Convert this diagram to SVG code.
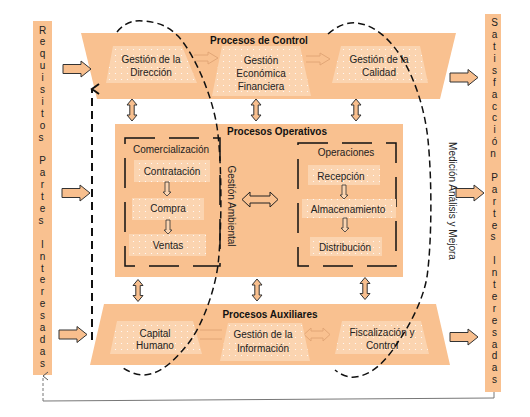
<svg xmlns="http://www.w3.org/2000/svg" width="530" height="417" viewBox="0 0 530 417">
<defs>
<pattern id="dots" width="6" height="6" patternUnits="userSpaceOnUse"><rect width="6" height="6" fill="#FBD4B0"/><circle cx="1.5" cy="1.5" r="0.6" fill="#FFFFFF"/></pattern>
<path id="rarrow" d="M-14,-4.5 H4 V-8 L14,0 L4,8 V4.5 H-14 Z"/>
<path id="vdbl" d="M0,-11 L5,-5 H2.2 V5 H5 L0,11 L-5,5 H-2.2 V-5 H-5 Z"/>
<path id="darrow" d="M-2,-7 H2 V3 H4 L0,7 L-4,3 H-2 Z"/>
<marker id="openhead" markerWidth="10" markerHeight="10" refX="5" refY="2" orient="auto-start-reverse" markerUnits="userSpaceOnUse" viewBox="0 0 10 10"><path d="M1,7 L5,2 L9,7" fill="none" stroke="#555" stroke-width="1"/></marker>
<marker id="openhead2" markerWidth="12" markerHeight="12" refX="6" refY="2" orient="auto-start-reverse" markerUnits="userSpaceOnUse" viewBox="0 0 12 12"><path d="M1,9 L6,2 L11,9" fill="none" stroke="#111" stroke-width="2"/></marker>
</defs>
<style>
.main{fill:#F9C190;}
.inner{fill:url(#dots);}
.t{font-family:"Liberation Sans",Arial,sans-serif;font-size:10px;fill:#222;text-anchor:middle;}
.b{font-family:"Liberation Sans",Arial,sans-serif;font-size:10px;font-weight:bold;fill:#111;text-anchor:middle;}
.v{font-family:"Liberation Sans",Arial,sans-serif;font-size:10px;fill:#222;text-anchor:middle;}
.blk{fill:#F8BF8E;stroke:#333;stroke-width:1;}
.dash{fill:none;stroke:#111;stroke-width:1.5;stroke-dasharray:30 14;}
.faint{fill:none;stroke:#E2A676;stroke-width:1;}
.curve{fill:none;stroke:#111;stroke-width:1.5;stroke-dasharray:7 4;}
</style>
<rect width="530" height="417" fill="#FFFFFF"/>

<g id="requisitos">
<rect x="33" y="21" width="19" height="354" class="main"/>
<text class="v" x="42.5">
<tspan x="42.5" y="33.5">R</tspan><tspan x="42.5" y="45.4">e</tspan><tspan x="42.5" y="57.3">q</tspan><tspan x="42.5" y="69.2">u</tspan><tspan x="42.5" y="81.1">i</tspan><tspan x="42.5" y="93">s</tspan><tspan x="42.5" y="104.9">i</tspan><tspan x="42.5" y="116.8">t</tspan><tspan x="42.5" y="128.7">o</tspan><tspan x="42.5" y="140.6">s</tspan>
<tspan x="42.5" y="164.4">P</tspan><tspan x="42.5" y="176.3">a</tspan><tspan x="42.5" y="188.2">r</tspan><tspan x="42.5" y="200.1">t</tspan><tspan x="42.5" y="212">e</tspan><tspan x="42.5" y="223.9">s</tspan>
<tspan x="42.5" y="247.7">I</tspan><tspan x="42.5" y="259.6">n</tspan><tspan x="42.5" y="271.5">t</tspan><tspan x="42.5" y="283.4">e</tspan><tspan x="42.5" y="295.3">r</tspan><tspan x="42.5" y="307.2">e</tspan><tspan x="42.5" y="319.1">s</tspan><tspan x="42.5" y="331">a</tspan><tspan x="42.5" y="342.9">d</tspan><tspan x="42.5" y="354.8">a</tspan><tspan x="42.5" y="366.7">s</tspan>
</text>
</g>

<g id="satisfaccion">
<rect x="485" y="14" width="16" height="378" class="main"/>
<text class="v">
<tspan x="494.5" y="26.2">S</tspan><tspan x="494.5" y="38.1">a</tspan><tspan x="494.5" y="50">t</tspan><tspan x="494.5" y="61.9">i</tspan><tspan x="494.5" y="73.8">s</tspan><tspan x="494.5" y="85.7">f</tspan><tspan x="494.5" y="97.6">a</tspan><tspan x="494.5" y="109.5">c</tspan><tspan x="494.5" y="121.4">c</tspan><tspan x="494.5" y="133.3">i</tspan><tspan x="494.5" y="145.2">ó</tspan><tspan x="494.5" y="157.1">n</tspan>
<tspan x="494.5" y="180.9">P</tspan><tspan x="494.5" y="192.8">a</tspan><tspan x="494.5" y="204.7">r</tspan><tspan x="494.5" y="216.6">t</tspan><tspan x="494.5" y="228.5">e</tspan><tspan x="494.5" y="240.4">s</tspan>
<tspan x="494.5" y="264.2">I</tspan><tspan x="494.5" y="276.1">n</tspan><tspan x="494.5" y="288">t</tspan><tspan x="494.5" y="299.9">e</tspan><tspan x="494.5" y="311.8">r</tspan><tspan x="494.5" y="323.7">e</tspan><tspan x="494.5" y="335.6">s</tspan><tspan x="494.5" y="347.5">a</tspan><tspan x="494.5" y="359.4">d</tspan><tspan x="494.5" y="371.3">a</tspan><tspan x="494.5" y="383.2">s</tspan>
</text>
</g>

<g id="control">
<polygon points="81,33 456,33 440,99 97,99" class="main"/>
<path class="faint" d="M194,55 H208 V52 L218,58 L208,64 V61 H194"/>
<path class="faint" d="M306,56 H320 V53 L330,59 L320,65 V62 H306"/>
<polygon points="113,46 182,46 197,83 106,83" class="inner"/>
<polygon points="222,46 300,46 311,96 212,96" class="inner"/>
<polygon points="341,46 420,46 428,83 332,83" class="inner"/>
<text class="b" x="259" y="44">Procesos de Control</text>
<text class="t" x="151" y="63">Gestión de la</text>
<text class="t" x="151" y="76">Dirección</text>
<text class="t" x="261" y="64">Gestión</text>
<text class="t" x="261" y="77">Económica</text>
<text class="t" x="261" y="90">Financiera</text>
<text class="t" x="379" y="63">Gestión de la</text>
<text class="t" x="379" y="76">Calidad</text>
</g>

<g id="operativos">
<rect x="115" y="124" width="288" height="153" class="main"/>
<text class="b" x="277" y="135">Procesos Operativos</text>
<rect x="125" y="138" width="95" height="128" class="dash"/>
<text class="t" x="171" y="153">Comercialización</text>
<rect x="134" y="160" width="76" height="22" class="inner"/>
<text class="t" x="172" y="175">Contratación</text>
<rect x="132" y="198" width="72" height="22" class="inner"/>
<text class="t" x="168" y="212">Compra</text>
<rect x="129" y="234" width="77" height="22" class="inner"/>
<text class="t" x="168" y="249">Ventas</text>
<use href="#darrow" x="167" y="189" class="blk" style="stroke-width:0.8;fill:#FBD4B0"/>
<use href="#darrow" x="168" y="227" class="blk" style="stroke-width:0.8;fill:#FBD4B0"/>
<text class="t" transform="translate(227.5,206) rotate(90)" x="0" y="0">Gestión Ambiental</text>
<path d="M242,199.5 L250,192 V196 H270 V192 L278,199.5 L270,207 V203 H250 V207 Z" fill="#F9C190" stroke="#222" stroke-width="1"/>
<rect x="298" y="143" width="98" height="123" class="dash"/>
<text class="t" x="346" y="156">Operaciones</text>
<rect x="308" y="165" width="72" height="20" class="inner"/>
<text class="t" x="341" y="180">Recepción</text>
<rect x="302" y="199" width="94" height="19" class="inner"/>
<text class="t" x="348" y="213">Almacenamiento</text>
<rect x="310" y="237" width="72" height="19" class="inner"/>
<text class="t" x="345" y="251">Distribución</text>
<use href="#darrow" x="344" y="192" class="blk" style="stroke-width:0.8;fill:#FBD4B0"/>
<use href="#darrow" x="345" y="225" class="blk" style="stroke-width:0.8;fill:#FBD4B0"/>
</g>

<g id="auxiliares">
<polygon points="104,304 436,304 450,365 90,365" class="main"/>
<path class="faint" d="M200,330 H222 M200,339 H222"/>
<path class="faint" d="M304,334.5 L311,328 V331 H323 V328 L330,334.5 L323,341 V338 H311 V341 Z"/>
<polygon points="117,321 193,321 202,354 110,354" class="inner"/>
<polygon points="228,323 302,323 310,361 220,361" class="inner"/>
<polygon points="342,321 421,321 429,354 335,354" class="inner"/>
<text class="b" x="270" y="318">Procesos Auxiliares</text>
<text class="t" x="155" y="337">Capital</text>
<text class="t" x="155" y="349">Humano</text>
<text class="t" x="263" y="338">Gestión de la</text>
<text class="t" x="263" y="352">Información</text>
<text class="t" x="382" y="336">Fiscalización y</text>
<text class="t" x="382" y="349">Control</text>
</g>

<g id="medicion">
<text class="t" transform="translate(448.5,201) rotate(90)" x="0" y="0">Medición Análisis y Mejora</text>
</g>

<g id="connectors">
<use href="#rarrow" x="77" y="69" class="blk"/>
<use href="#rarrow" x="76" y="193" class="blk"/>
<use href="#rarrow" x="73" y="334.5" class="blk"/>
<use href="#rarrow" x="464" y="77.5" class="blk"/>
<use href="#rarrow" x="470" y="193" class="blk"/>
<use href="#rarrow" x="464" y="337" class="blk"/>
<use href="#vdbl" x="132" y="110" class="blk"/>
<use href="#vdbl" x="256" y="110" class="blk"/>
<use href="#vdbl" x="356" y="110" class="blk"/>
<use href="#vdbl" x="138" y="290.5" class="blk"/>
<use href="#vdbl" x="257" y="290" class="blk"/>
<use href="#vdbl" x="365" y="288.5" class="blk"/>
<path d="M92,340 V89" fill="none" stroke="#111" stroke-width="2" stroke-dasharray="8 5" marker-end="url(#openhead2)"/>
<path class="curve" d="M117,32 C125,22 135,20 143,21 C158,22 168,26 178,36 C195,55 212,95 217,127 C222,160 222,230 218,265 C214,295 200,330 187,345 C175,360 160,375 143,375 C135,375 128,371 123,368"/>
<path class="curve" d="M328,34 C338,25 348,22 357,23 C375,25 390,40 400,55 C415,78 425,110 428,140 C432,180 432,240 427,277 C423,300 410,325 398,342 C390,355 375,375 355,377 C347,378 340,374 335,370"/>
<path d="M494,392 V398 L43,401" fill="none" stroke="#777" stroke-width="1"/>
<path d="M43,401 V376" fill="none" stroke="#777" stroke-width="1" stroke-dasharray="3 2" marker-end="url(#openhead)"/>
</g>
</svg>
